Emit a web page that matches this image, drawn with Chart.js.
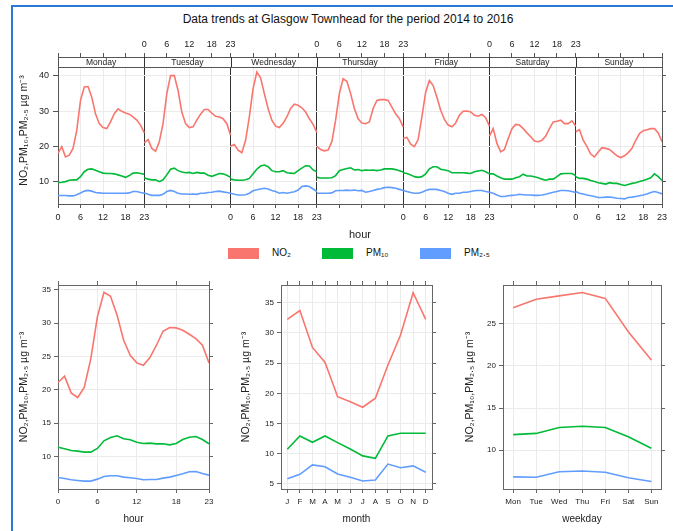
<!DOCTYPE html>
<html>
<head>
<meta charset="utf-8">
<script src="https://cdn.jsdelivr.net/npm/chart.js@4.4.1/dist/chart.umd.min.js"></script>
<style>
  body { margin: 0; background: #fff; font-family: "Liberation Sans", Arial, sans-serif; overflow: hidden; }
  #page { position: relative; width: 673px; height: 531px; overflow: hidden; }
  #frame { position: absolute; left: 11px; top: 5px; width: 660px; height: 524px;
           border-left: 2px solid #2a7ad5; border-top: 2px solid #2a7ad5; }
  canvas { position: absolute; }
  #title { position: absolute; left: 48px; width: 600px; top: 12px; text-align: center;
           font-size: 12px; line-height: 14px; color: #111; }
  .lg-box { position: absolute; top: 248px; width: 31px; height: 11px; }
  .lg-txt { position: absolute; top: 247px; font-size: 10px; line-height: 12px; color: #111; }
</style>
</head>
<body>
<div id="page">
  <div id="frame"></div>
  <div id="title">Data trends at Glasgow Townhead for the period 2014 to 2016</div>
  <canvas id="week" width="673" height="245" style="left:0;top:0"></canvas>
  <div id="legend"></div>
  <canvas id="byHour" width="230" height="261" style="left:0;top:270px"></canvas>
  <canvas id="byMonth" width="220" height="261" style="left:230px;top:270px"></canvas>
  <canvas id="byWeekday" width="223" height="261" style="left:450px;top:270px"></canvas>
</div>
<script>
// series
const seriesNames = ['NO₂', 'PM₁₀', 'PM₂.₅'];
const seriesColors = ['#F8766D', '#00BA38', '#619CFF'];
const yTitle = 'NO₂,PM₁₀,PM₂.₅ µg m⁻³';

// day and hour panels (top)
const days = ['Monday', 'Tuesday', 'Wednesday', 'Thursday', 'Friday', 'Saturday', 'Sunday'];
const hourTicks = [0, 6, 12, 18, 23];

const no2ByDay = [
  [18.1, 20.0, 17.1, 17.6, 19.5, 24.6, 33.1, 36.9, 37.0, 34.0, 29.3, 26.5, 25.4, 25.1, 27.0, 29.3, 30.7, 30.0, 29.5, 29.2, 28.4, 27.5, 26.1, 23.9],
  [21.1, 22.0, 19.5, 18.7, 21.4, 26.5, 35.0, 40.1, 40.1, 35.9, 29.8, 26.5, 25.4, 25.6, 27.5, 29.2, 30.5, 30.5, 29.5, 28.6, 28.4, 27.9, 26.5, 23.2],
  [20.1, 20.6, 19.0, 18.3, 21.8, 28.4, 36.4, 41.1, 39.5, 35.0, 30.8, 27.5, 25.8, 25.4, 26.6, 28.4, 30.8, 32.0, 31.7, 31.0, 29.8, 27.9, 26.3, 24.0],
  [20.1, 19.2, 18.8, 19.0, 21.4, 27.5, 35.0, 39.2, 38.5, 35.0, 30.8, 27.9, 26.7, 26.5, 27.0, 30.8, 33.1, 33.3, 33.3, 33.1, 31.2, 29.3, 27.9, 25.6],
  [22.3, 22.6, 20.7, 20.0, 22.0, 28.4, 35.4, 38.7, 37.3, 34.0, 30.3, 27.7, 26.1, 25.6, 26.7, 28.9, 30.0, 30.1, 29.8, 28.9, 28.6, 29.1, 28.2, 25.8],
  [23.0, 25.1, 20.9, 18.5, 19.2, 22.3, 25.1, 26.3, 26.1, 25.1, 23.9, 22.8, 21.6, 21.4, 21.8, 23.0, 25.1, 27.0, 27.2, 27.5, 26.5, 26.5, 27.3, 25.8],
  [24.2, 24.8, 21.8, 20.0, 17.9, 17.1, 18.5, 19.7, 19.5, 19.2, 18.3, 17.4, 16.9, 17.4, 18.3, 19.5, 21.8, 23.7, 24.5, 24.8, 25.1, 25.1, 23.9, 21.4]
];
const pm10ByDay = [
  [9.8, 9.9, 10.1, 10.5, 10.6, 10.6, 11.5, 12.9, 13.6, 13.7, 13.3, 12.9, 12.5, 12.4, 12.4, 12.3, 12.0, 11.7, 11.3, 11.8, 12.5, 12.6, 12.4, 12.2],
  [11.2, 10.8, 10.6, 10.6, 10.1, 10.6, 12.0, 13.6, 13.9, 13.2, 12.8, 12.6, 12.7, 12.4, 12.7, 12.5, 12.5, 11.9, 11.6, 12.0, 12.4, 12.3, 11.9, 11.3],
  [10.8, 10.6, 10.5, 10.5, 10.6, 11.0, 12.3, 13.6, 14.5, 14.8, 14.3, 13.2, 12.9, 12.9, 13.2, 12.6, 12.5, 12.4, 13.2, 13.9, 14.6, 14.5, 13.4, 12.9],
  [11.3, 11.1, 11.1, 11.1, 11.2, 11.8, 13.2, 13.5, 13.8, 14.0, 13.4, 13.5, 13.2, 13.4, 13.3, 13.4, 13.2, 13.4, 13.7, 13.7, 13.7, 13.5, 13.2, 12.8],
  [12.6, 12.4, 12.0, 11.5, 11.3, 11.5, 12.3, 13.7, 14.3, 14.3, 13.6, 13.4, 13.2, 12.6, 12.6, 12.6, 12.6, 12.5, 12.4, 12.9, 13.1, 13.3, 12.9, 12.3],
  [12.3, 12.3, 11.7, 11.2, 10.8, 10.8, 10.8, 11.2, 11.5, 12.2, 11.7, 11.7, 11.5, 11.2, 10.8, 10.5, 10.8, 10.8, 11.5, 12.3, 12.4, 12.4, 12.4, 11.8],
  [11.5, 11.0, 11.0, 10.8, 10.4, 10.1, 9.8, 9.6, 9.4, 9.8, 9.6, 9.6, 9.3, 9.0, 9.3, 9.6, 9.8, 10.1, 10.4, 10.8, 11.2, 12.3, 11.5, 10.4]
];
const pm25ByDay = [
  [6.15, 6.15, 6.15, 6.05, 6.05, 6.4, 6.9, 7.4, 7.6, 7.4, 7.0, 6.9, 6.8, 6.8, 6.8, 6.8, 6.8, 6.8, 6.8, 6.9, 7.3, 7.3, 7.0, 6.8],
  [6.9, 6.5, 6.2, 6.2, 6.2, 6.5, 7.3, 7.6, 7.3, 6.8, 6.6, 6.6, 6.5, 6.6, 6.5, 6.8, 6.8, 7.0, 7.1, 7.3, 7.4, 7.2, 7.0, 6.8],
  [6.8, 6.5, 6.3, 6.3, 6.4, 6.8, 7.5, 7.8, 8.0, 8.2, 8.0, 7.6, 7.3, 6.8, 7.0, 6.8, 7.0, 7.2, 7.7, 8.7, 8.9, 8.7, 8.0, 7.3],
  [6.8, 6.8, 6.8, 6.8, 6.9, 7.5, 7.6, 7.6, 7.7, 7.6, 7.7, 7.5, 7.6, 7.1, 7.3, 7.6, 7.9, 8.1, 8.4, 8.5, 8.4, 8.2, 7.9, 7.6],
  [7.6, 7.3, 7.0, 6.8, 6.8, 7.1, 7.6, 7.9, 7.9, 7.9, 7.6, 7.3, 6.8, 6.5, 6.8, 6.8, 7.1, 7.1, 7.3, 7.5, 7.6, 7.6, 7.3, 7.1],
  [7.1, 6.8, 6.3, 5.9, 5.9, 6.1, 6.2, 6.3, 6.5, 6.4, 6.3, 6.3, 6.2, 6.2, 6.3, 6.5, 6.8, 7.1, 7.3, 7.6, 7.6, 7.5, 7.3, 7.0],
  [7.3, 6.8, 6.6, 6.3, 6.1, 5.9, 5.6, 5.6, 5.7, 5.7, 5.6, 5.4, 5.3, 5.2, 5.6, 5.7, 5.9, 6.1, 6.3, 6.6, 7.0, 7.3, 7.0, 6.6]
];

// hour of day panel
const hours = [0, 1, 2, 3, 4, 5, 6, 7, 8, 9, 10, 11, 12, 13, 14, 15, 16, 17, 18, 19, 20, 21, 22, 23];
const no2Hour = [21.1, 22.05, 19.55, 18.85, 20.35, 24.7, 30.95, 34.65, 34.05, 31.2, 27.45, 25.2, 24.05, 23.7, 24.85, 26.7, 28.8, 29.35, 29.3, 28.95, 28.35, 27.7, 26.7, 24.05];
const pm10Hour = [11.4, 11.15, 10.9, 10.8, 10.65, 10.65, 11.2, 12.35, 12.85, 13.1, 12.65, 12.5, 12.15, 11.95, 12.0, 11.9, 11.9, 11.75, 11.95, 12.55, 12.9, 13.0, 12.55, 11.9];
const pm25Hour = [6.85, 6.7, 6.5, 6.4, 6.3, 6.3, 6.6, 7.0, 7.1, 7.1, 6.9, 6.8, 6.7, 6.5, 6.55, 6.55, 6.75, 6.9, 7.15, 7.4, 7.7, 7.75, 7.45, 7.2];

// month panel
const months = [1, 2, 3, 4, 5, 6, 7, 8, 9, 10, 11, 12];
const monthLabels = ['J', 'F', 'M', 'A', 'M', 'J', 'J', 'A', 'S', 'O', 'N', 'D'];
const no2Month = [32.25, 33.7, 27.6, 25.1, 19.45, 18.6, 17.7, 19.2, 24.7, 29.65, 36.65, 32.25];
const pm10Month = [10.75, 12.95, 11.9, 12.95, 11.85, 10.8, 9.65, 9.25, 12.95, 13.4, 13.4, 13.4];
const pm25Month = [5.85, 6.6, 8.15, 7.85, 6.65, 6.1, 5.5, 5.65, 8.3, 7.7, 8.0, 6.95];

// weekday panel
const weekdays = [0, 1, 2, 3, 4, 5, 6];
const weekdayLabels = ['Mon', 'Tue', 'Wed', 'Thu', 'Fri', 'Sat', 'Sun'];
const no2Weekday = [26.9, 27.9, 28.3, 28.7, 28.0, 24.05, 20.7];
const pm10Weekday = [11.85, 12.0, 12.7, 12.85, 12.7, 11.6, 10.25];
const pm25Weekday = [6.85, 6.8, 7.45, 7.55, 7.4, 6.75, 6.3];

Chart.defaults.font.family = '"Liberation Sans", Arial, sans-serif';
Chart.defaults.color = '#222';

const SPAN = 23; // hours 0..23 fill one day panel
const gridCol = '#ebebeb';
const axisCol = '#555';

const ticksAt = list => scale => { scale.ticks = list.map(v => ({ value: v })); };
const fixWidth = w => scale => { scale.width = w; };
const fixHeight = h => scale => { scale.height = h; };

// one continuous x axis for the 7 day panels, broken with a null between days
function weekPoints(byDay) {
  const pts = [];
  byDay.forEach((vals, d) => {
    vals.forEach((v, h) => pts.push({ x: d * SPAN + h, y: v }));
    if (d < byDay.length - 1) pts.push({ x: (d + 1) * SPAN, y: null });
  });
  return pts;
}

const weekTicks = [];
days.forEach((_, d) => hourTicks.slice(0, 4).forEach(h => weekTicks.push(d * SPAN + h)));
weekTicks.push(days.length * SPAN);

// labels alternate: bottom for Mon/Wed/Fri/Sun, top for Tue/Thu/Sat
function weekLabel(v, shown) {
  if (v % SPAN === 0) {
    const k = v / SPAN;
    if (shown.includes(k)) return '0';
    if (shown.includes(k - 1)) return '23';
    return '';
  }
  const d = Math.floor(v / SPAN);
  return shown.includes(d) ? String(v - d * SPAN) : '';
}

const weekGrid = ctx => {
  const v = ctx.tick ? ctx.tick.value : 0;
  return (v % SPAN === 0 && v > 0 && v < days.length * SPAN) ? '#333' : gridCol;
};

const stripPlugin = {
  id: 'dayStrip',
  afterDraw(chart) {
    const { ctx, chartArea: a } = chart;
    const x = chart.scales.x;
    const h = 10;
    ctx.save();
    ctx.fillStyle = '#fff';
    ctx.fillRect(a.left + 1, a.top + 1, a.right - a.left - 2, h);
    ctx.strokeStyle = axisCol;
    ctx.lineWidth = 1;
    ctx.beginPath();
    ctx.moveTo(a.left, a.top + h + 0.5);
    ctx.lineTo(a.right, a.top + h + 0.5);
    ctx.stroke();
    ctx.strokeStyle = '#333';
    for (let d = 1; d < days.length; d++) {
      const px = Math.round(x.getPixelForValue(d * SPAN)) + 0.5;
      ctx.beginPath();
      ctx.moveTo(px, a.top);
      ctx.lineTo(px, a.top + h);
      ctx.stroke();
    }
    ctx.fillStyle = '#222';
    ctx.font = '8.5px "Liberation Sans", Arial, sans-serif';
    ctx.textAlign = 'center';
    ctx.textBaseline = 'middle';
    days.forEach((name, d) => {
      ctx.fillText(name, x.getPixelForValue(d * SPAN + SPAN / 2), a.top + h / 2 + 1);
    });
    ctx.restore();
  }
};

const baseOptions = () => ({
  responsive: false,
  animation: false,
  events: [],
  plugins: { legend: { display: false }, tooltip: { enabled: false } },
  layout: { padding: 0 }
});

const weekSeries = [no2ByDay, pm10ByDay, pm25ByDay];
const weekOpts = baseOptions();
weekOpts.scales = {
  x: {
    type: 'linear', min: 0, max: days.length * SPAN,
    afterBuildTicks: ticksAt(weekTicks), afterFit: fixHeight(41),
    ticks: { autoSkip: false, maxRotation: 0, font: { size: 9 }, padding: 4,
             callback: v => weekLabel(v, [0, 2, 4, 6]) },
    grid: { color: weekGrid, tickLength: 4, tickColor: axisCol },
    border: { color: axisCol },
    title: { display: true, text: 'hour', font: { size: 11 }, padding: { top: 0, bottom: 3 } }
  },
  x2: {
    type: 'linear', position: 'top', min: 0, max: days.length * SPAN,
    afterBuildTicks: ticksAt(weekTicks), afterFit: fixHeight(57),
    ticks: { autoSkip: false, maxRotation: 0, font: { size: 9 }, padding: 3,
             callback: v => weekLabel(v, [1, 3, 5]) },
    grid: { drawOnChartArea: false, tickLength: 4, tickColor: axisCol },
    border: { color: axisCol }
  },
  y: {
    min: 3.76, max: 45.37,
    afterBuildTicks: ticksAt([10, 20, 30, 40]), afterFit: fixWidth(58),
    ticks: { font: { size: 9 }, padding: 4 },
    grid: { color: gridCol, tickLength: 5, tickColor: axisCol },
    border: { color: axisCol },
    title: { display: true, text: yTitle, font: { size: 10.5 }, padding: { top: 18, bottom: 0 } }
  },
  y2: {
    position: 'right', min: 3.76, max: 45.37,
    afterBuildTicks: ticksAt([10, 20, 30, 40]), afterFit: fixWidth(11),
    ticks: { display: false },
    grid: { drawOnChartArea: false, tickLength: 4, tickColor: axisCol },
    border: { color: axisCol }
  }
};

new Chart(document.getElementById('week'), {
  type: 'line',
  data: {
    datasets: seriesNames.map((name, i) => ({
      label: name,
      data: weekPoints(weekSeries[i]),
      borderColor: seriesColors[i],
      borderWidth: 1.6,
      pointRadius: 0,
      tension: 0
    }))
  },
  options: weekOpts,
  plugins: [stripPlugin]
});

function panel(id, cfg) {
  const opts = baseOptions();
  const col = '#666';
  opts.scales = {
    x: {
      type: 'linear', min: cfg.xMin, max: cfg.xMax,
      afterBuildTicks: ticksAt(cfg.xTicks), afterFit: fixHeight(42),
      ticks: { autoSkip: false, maxRotation: 0, font: { size: 8 }, padding: 4, callback: cfg.label },
      grid: { color: gridCol, tickLength: 4, tickColor: col },
      border: { color: col },
      title: { display: true, text: cfg.xTitle, font: { size: 10 }, padding: { top: 0, bottom: 6 } }
    },
    x2: {
      type: 'linear', position: 'top', min: cfg.xMin, max: cfg.xMax,
      afterBuildTicks: ticksAt(cfg.xTicks), afterFit: fixHeight(15),
      ticks: { display: false },
      grid: { drawOnChartArea: false, tickLength: 4, tickColor: col },
      border: { color: col }
    },
    y: {
      min: cfg.yMin, max: cfg.yMax,
      afterBuildTicks: ticksAt(cfg.yTicks), afterFit: fixWidth(cfg.left),
      ticks: { font: { size: 8 }, padding: 3 },
      grid: { color: gridCol, tickLength: 4, tickColor: col },
      border: { color: col },
      title: { display: true, text: yTitle, font: { size: 10.5 }, padding: { top: cfg.titlePad, bottom: 0 } }
    },
    y2: {
      position: 'right', min: cfg.yMin, max: cfg.yMax,
      afterBuildTicks: ticksAt(cfg.yTicks), afterFit: fixWidth(cfg.right),
      ticks: { display: false },
      grid: { drawOnChartArea: false, tickLength: 4, tickColor: col },
      border: { color: col }
    }
  };
  return new Chart(document.getElementById(id), {
    type: 'line',
    data: {
      datasets: seriesNames.map((name, i) => ({
        label: name,
        data: cfg.x.map((xv, j) => ({ x: xv, y: cfg.series[i][j] })),
        borderColor: seriesColors[i],
        borderWidth: 1.6,
        pointRadius: 0,
        tension: 0
      }))
    },
    options: opts
  });
}

panel('byHour', {
  x: hours, xTicks: hourTicks, xMin: 0, xMax: 23, label: v => String(v), xTitle: 'hour',
  series: [no2Hour, pm10Hour, pm25Hour],
  yMin: 5.12, yMax: 35.74, yTicks: [10, 15, 20, 25, 30, 35],
  left: 58, right: 21, titlePad: 18
});
panel('byMonth', {
  x: months, xTicks: months, xMin: 0.5, xMax: 12.5, label: v => monthLabels[v - 1], xTitle: 'month',
  series: [no2Month, pm10Month, pm25Month],
  yMin: 4.17, yMax: 37.93, yTicks: [5, 10, 15, 20, 25, 30, 35],
  left: 51, right: 18, titlePad: 10
});
panel('byWeekday', {
  x: weekdays, xTicks: weekdays, xMin: -0.44, xMax: 6.42, label: v => weekdayLabels[v], xTitle: 'weekday',
  series: [no2Weekday, pm10Weekday, pm25Weekday],
  yMin: 5.41, yMax: 29.59, yTicks: [10, 15, 20, 25],
  left: 53, right: 12, titlePad: 14
});

// legend between the two rows
const legend = document.getElementById('legend');
const legendLeft = [228, 322, 420];
seriesNames.forEach((name, i) => {
  const box = document.createElement('div');
  box.className = 'lg-box';
  box.style.left = legendLeft[i] + 'px';
  box.style.background = seriesColors[i];
  legend.appendChild(box);
  const txt = document.createElement('div');
  txt.className = 'lg-txt';
  txt.style.left = (legendLeft[i] + 44) + 'px';
  txt.textContent = name;
  legend.appendChild(txt);
});
</script>
</body>
</html>
